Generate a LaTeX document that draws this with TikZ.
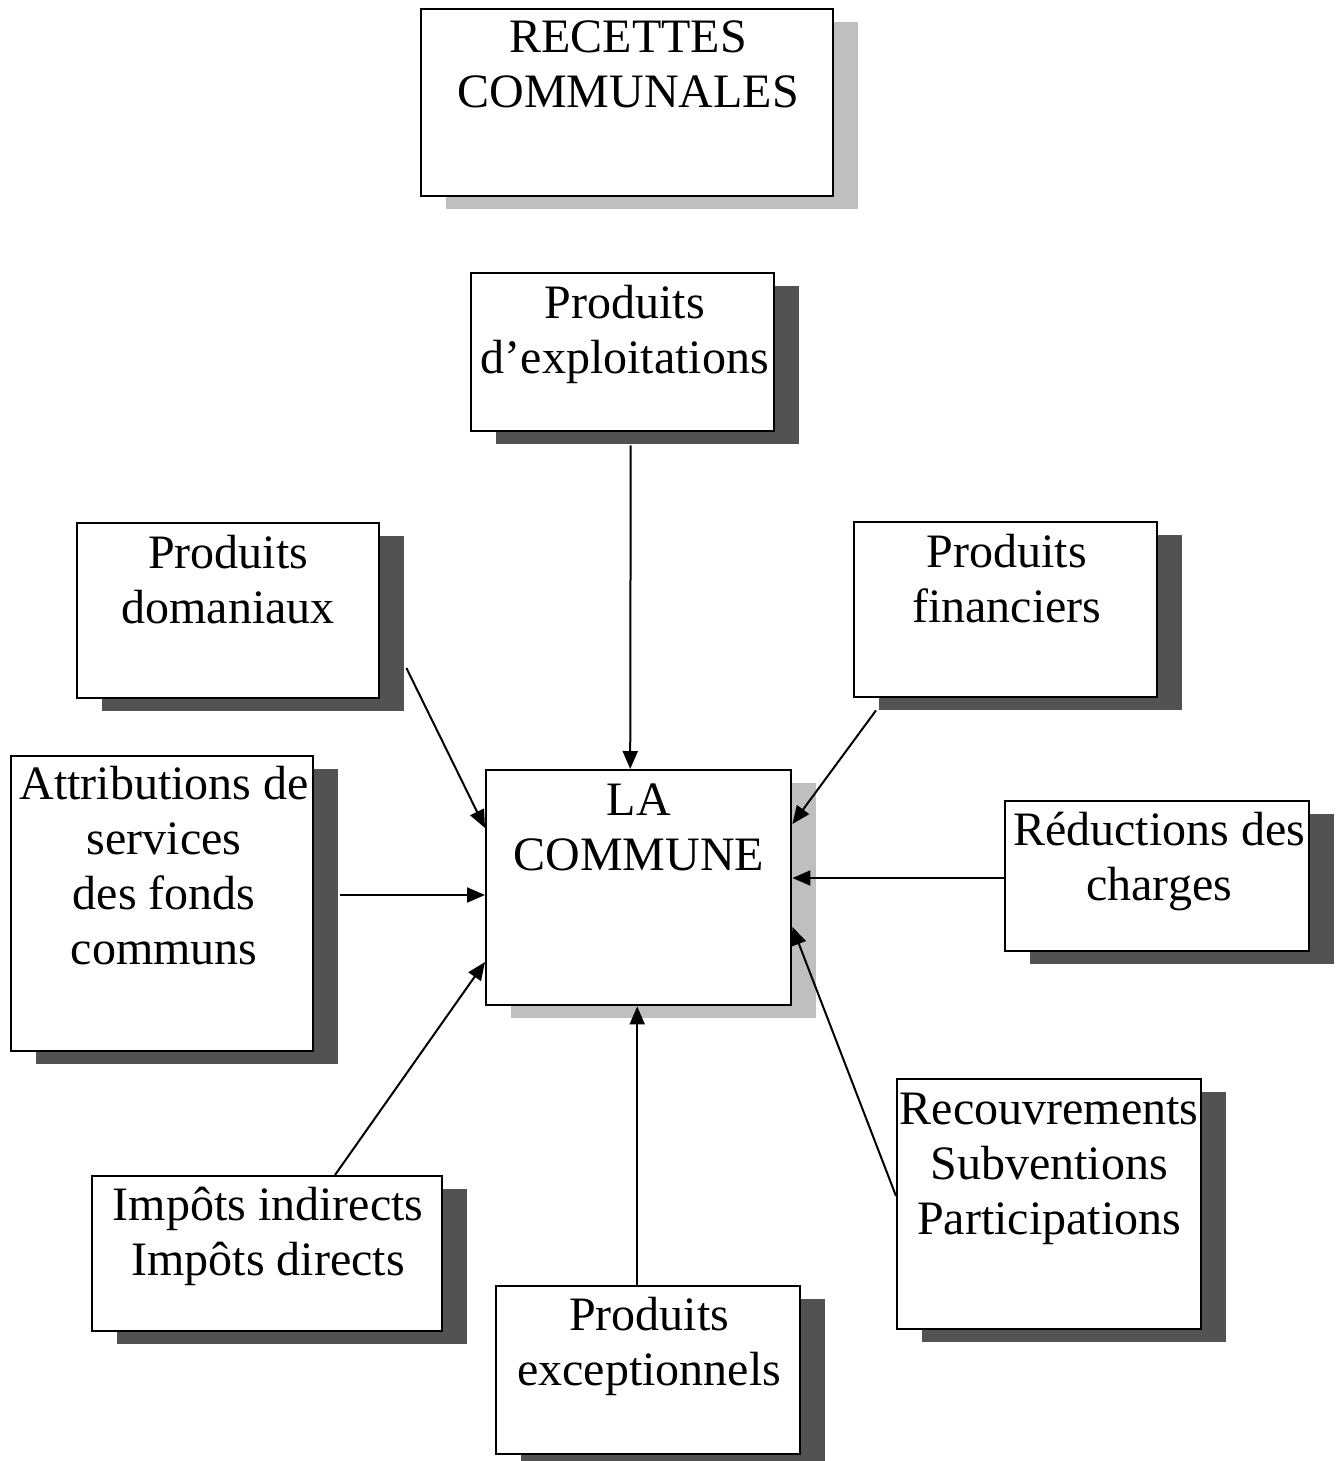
\documentclass[tikz,border=0pt]{standalone}
\usepackage{fontspec}
\setmainfont{Liberation Serif}
\usetikzlibrary{arrows.meta,calc,shadows}
\newcommand\mltext[1]{\begin{tabular}[t]{@{}c@{}}#1\end{tabular}}
\begin{document}
\begin{tikzpicture}[x=1pt,y=-1pt,
  box/.style={draw=black,line width=2.4pt,fill=white,rectangle,inner sep=0pt,anchor=north west},
  darkbox/.style={box,drop shadow={shadow xshift=25pt,shadow yshift=-13pt,fill=black!68,opacity=1}},
  lightbox/.style={box,drop shadow={shadow xshift=25pt,shadow yshift=-13pt,fill=black!25,opacity=1}},
  lbl/.style={anchor=base,inner sep=0pt,font=\fontsize{48}{55}\selectfont},
  arr/.style={line width=2pt,-{Triangle[length=18pt,width=15pt]}}]
\useasboundingbox[fill=white] (0,0) rectangle (1337,1461);

% boxes
\node[lightbox,minimum width=412pt,minimum height=187pt] (title) at (420,8) {};
\node[darkbox,minimum width=303pt,minimum height=158pt] (expl) at (470,272) {};
\node[darkbox,minimum width=302pt,minimum height=175pt] (dom) at (76,522) {};
\node[darkbox,minimum width=303pt,minimum height=175pt] (fin) at (853,521) {};
\node[darkbox,minimum width=302pt,minimum height=295pt] (attr) at (10,755) {};
\node[lightbox,minimum width=305pt,minimum height=235pt] (com) at (485,769) {};
\node[darkbox,minimum width=304pt,minimum height=150pt] (red) at (1004,800) {};
\node[darkbox,minimum width=350pt,minimum height=155pt] (imp) at (91,1175) {};
\node[darkbox,minimum width=304pt,minimum height=250pt] (rec) at (896,1078) {};
\node[darkbox,minimum width=304pt,minimum height=168pt] (exc) at (495,1285) {};

% texts
\node[lbl] (titlet) at ($(title.north)+(1,45)$) {\mltext{RECETTES\\COMMUNALES}};
\node[lbl] (explt) at ($(expl.north)+(2,46)$) {\mltext{Produits\\d’exploitations}};
\node[lbl] (domt) at ($(dom.north)+(0,46)$) {\mltext{Produits\\domaniaux}};
\node[lbl] (fint) at ($(fin.north)+(1,46)$) {\mltext{Produits\\financiers}};
\node[lbl] (attrt) at ($(attr.north)+(2,44)$) {\mltext{Attributions de\\services\\des fonds\\communs}};
\node[lbl] (comt) at ($(com.north)+(0,46)$) {\mltext{LA\\COMMUNE}};
\node[lbl] (redt) at ($(red.north)+(2,45)$) {\mltext{Réductions des\\charges}};
\node[lbl] (impt) at ($(imp.north)+(1,45)$) {\mltext{Impôts indirects\\Impôts directs}};
\node[lbl] (rect) at ($(rec.north)+(0,46)$) {\mltext{Recouvrements\\Subventions\\Participations}};
\node[lbl] (exct) at ($(exc.north)+(1,45)$) {\mltext{Produits\\exceptionnels}};

% connectors
\draw[arr] ($(expl.south)+(8,13)$) -- ($(com.north)+(-8.5,0)$);
\draw[arr] ($(dom.north east)+(26,146)$) -- ($(com.north west)+(0,59)$);
\draw[arr] ($(fin.south west)+(23,12)$) -- ($(com.north east)+(0,55)$);
\draw[arr] ($(attr.north east)+(26,140)$) -- ($(com.north west)+(0,126)$);
\draw[arr] ($(red.north west)+(0,78)$) -- ($(com.north east)+(0,109)$);
\draw[arr] ($(imp.north west)+(244,0)$) -- ($(com.north west)+(0,193)$);
\draw[arr] ($(rec.north west)+(0,118)$) -- ($(com.north east)+(0,158)$);
\draw[arr] ($(exc.north)+(-11,0)$) -- ($(com.south)+(-1.5,0)$);
\end{tikzpicture}
\end{document}
